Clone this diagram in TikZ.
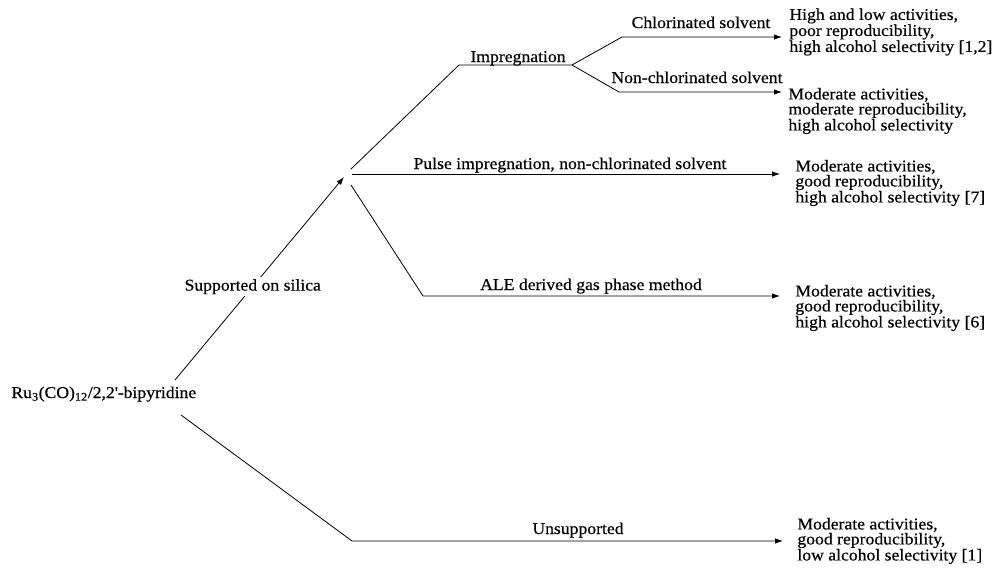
\documentclass[tikz,border=0pt]{standalone}
\usepackage{fontspec}
\setmainfont{Liberation Serif}[FakeStretch=1.07,FakeBold=0.4]
\usetikzlibrary{arrows.meta}
\begin{document}
\begin{tikzpicture}[x=1pt,y=-1pt,line width=0.8pt,
  every node/.style={inner sep=0pt,font=\fontsize{16.5}{15}\selectfont},
  result/.style={anchor=west,align=left},
  branch/.style={anchor=base},
  tip/.style={-{Latex[length=8pt,width=5.5pt]}}]
\useasboundingbox (0,0) rectangle (997,573);
\node [anchor=base west] (src) at (11,398) {Ru\textsubscript{3}(CO)\textsubscript{12}/2,2\textquotesingle-bipyridine};
\coordinate (up0) at (175,380);
\coordinate (dn0) at (181,415);
\coordinate (hub) at (344,177);
\coordinate (hubA) at (351,169);
\coordinate (hubB) at (352,174);
\coordinate (hubC) at (351,185);
\coordinate (imp0) at (459,65);
\coordinate (imp1) at (572,65);
\coordinate (cl0) at (622,37);
\coordinate (ncl0) at (619,92);
\coordinate (ale0) at (423,296);
\coordinate (uns0) at (352,541);
\node [result] (r1) at (789,32) {High and low activities,\\poor reproducibility,\\high alcohol selectivity [1,2]};
\node [result] (r2) at (788,111) {Moderate activities,\\moderate reproducibility,\\high alcohol selectivity};
\node [result] (r3) at (795,183) {Moderate activities,\\good reproducibility,\\high alcohol selectivity [7]};
\node [result] (r4) at (795,308) {Moderate activities,\\good reproducibility,\\high alcohol selectivity [6]};
\node [result] (r5) at (797,541) {Moderate activities,\\good reproducibility,\\low alcohol selectivity [1]};
\draw [tip] (up0) -- node [fill=white,inner sep=2pt,pos=0.46] (lsil) {Supported on silica} (hub);
\draw (hubA) -- (imp0) -- (imp1);
\node [branch] (limp) at (518,62) {Impregnation};
\draw [tip,shorten >=7pt] (imp1) -- (cl0) -- (cl0 -| r1.west);
\node [branch] (lcl) at (701,28) {Chlorinated solvent};
\draw [tip,shorten >=6pt] (imp1) -- (ncl0) -- (ncl0 -| r2.west);
\node [branch] (lncl) at (697,83) {Non-chlorinated solvent};
\draw [tip,shorten >=15pt] (hubB) -- (hubB -| r3.west);
\node [branch] (lpul) at (570,169) {Pulse impregnation, non-chlorinated solvent};
\draw [tip,shorten >=15pt] (hubC) -- (ale0) -- (ale0 -| r4.west);
\node [branch] (lale) at (591,290) {ALE derived gas phase method};
\draw [tip,shorten >=14pt] (dn0) -- (uns0) -- (uns0 -| r5.west);
\node [branch] (luns) at (578,534) {Unsupported};
\end{tikzpicture}
\end{document}
